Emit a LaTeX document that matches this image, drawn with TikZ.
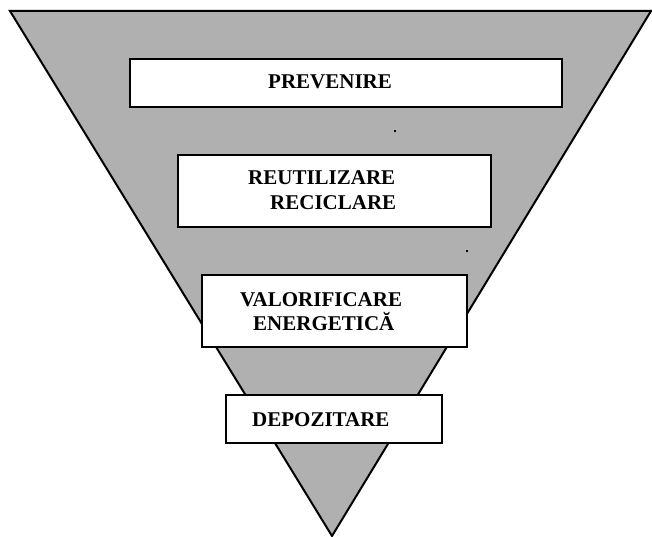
\documentclass[tikz,border=0pt]{standalone}
\usepackage{fontspec}
\setmainfont{Liberation Serif}
\begin{document}
\begin{tikzpicture}[x=1pt,y=-1pt,
  level/.style={draw=black, line width=2pt, fill=white, inner sep=0pt},
  label/.style={font=\fontsize{21}{24}\selectfont\bfseries, inner sep=0pt, anchor=base west},
  speck/.style={fill=black, minimum size=2.2pt, inner sep=0pt}]
\definecolor{funnelgray}{RGB}{176,176,176}
\useasboundingbox (0,0) rectangle (652,537);

% inverted triangle
\coordinate (tl) at (10,11);
\coordinate (tr) at (651,11);
\coordinate (apex) at (332,536);
\draw[line width=2pt, fill=funnelgray, line join=miter] (tl) -- (tr) -- (apex) -- cycle;

% level boxes
\node[level, minimum width=432pt, minimum height=48pt] (prev) at (346,83) {};
\node[level, minimum width=313pt, minimum height=72pt] (reut) at (334.5,191) {};
\node[level, minimum width=265pt, minimum height=72pt] (valo) at (334.5,311) {};
\node[level, minimum width=216pt, minimum height=48pt] (depo) at (334,419) {};

% labels
\node[label] (tprev) at (268,89) {PREVENIRE};
\node[label] (treut) at (248,185) {REUTILIZARE};
\node[label] (treci) at (270,209) {RECICLARE};
\node[label] (tvalo) at (240,306) {VALORIFICARE};
\node[label] (tener) at (253,330) {ENERGETICĂ};
\node[label] (tdepo) at (252,426) {DEPOZITARE};

% stray specks
\node[speck] (d1) at (395,131) {};
\node[speck] (d2) at (467,251) {};
\end{tikzpicture}
\end{document}
